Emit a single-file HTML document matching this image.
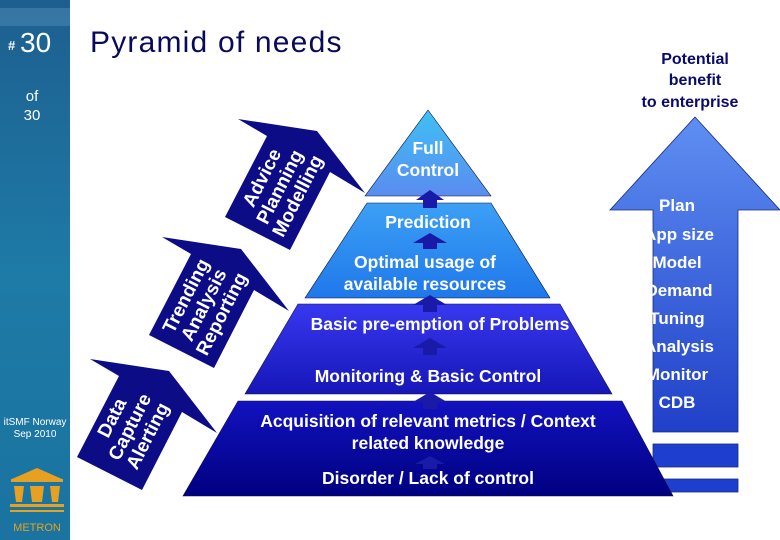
<!DOCTYPE html>
<html><head><meta charset="utf-8"><style>
html,body{margin:0;padding:0;background:#fff}
svg{display:block}
text{font-family:"Liberation Sans",Arial,sans-serif}
.b{font-weight:700}
</style></head><body>
<svg width="780" height="540" viewBox="0 0 780 540" xmlns="http://www.w3.org/2000/svg">
<defs>
<linearGradient id="side" x1="0" y1="0" x2="0" y2="1"><stop offset="0" stop-color="#1d5f8f"/><stop offset="0.5" stop-color="#1e7aa6"/><stop offset="1" stop-color="#1a73a0"/></linearGradient>
<linearGradient id="b1" x1="0" y1="0" x2="0" y2="1"><stop offset="0" stop-color="#3fc0f5"/><stop offset="1" stop-color="#5a8cf0"/></linearGradient>
<linearGradient id="b2" x1="0" y1="0" x2="0" y2="1"><stop offset="0" stop-color="#3ca0f5"/><stop offset="1" stop-color="#1f78ea"/></linearGradient>
<linearGradient id="b3" x1="0" y1="0" x2="0" y2="1"><stop offset="0" stop-color="#3838f0"/><stop offset="1" stop-color="#1616b8"/></linearGradient>
<linearGradient id="b4" x1="0" y1="0" x2="0" y2="1"><stop offset="0" stop-color="#1212c0"/><stop offset="1" stop-color="#000080"/></linearGradient>
<linearGradient id="ra" x1="0" y1="0" x2="0" y2="1"><stop offset="0" stop-color="#5f8ff2"/><stop offset="1" stop-color="#2040c8"/></linearGradient>
<g id="larrow"><polygon points="238,119 317,131 365,193 330,172 290,250 225,217 267,136" fill="#0c0c86"/></g>
</defs>
<rect x="0" y="0" width="70" height="540" fill="url(#side)"/>
<rect x="0" y="8" width="70" height="18" fill="#4a86b2" opacity="0.6"/>
<text x="8" y="50" fill="#fff" font-size="13" class="b">#</text>
<text x="20" y="52" fill="#fff" font-size="28">30</text>
<text x="32" y="101" fill="#fff" font-size="15" text-anchor="middle">of</text>
<text x="32" y="120" fill="#fff" font-size="15" text-anchor="middle">30</text>
<text x="35" y="425" fill="#fff" font-size="10" text-anchor="middle">itSMF Norway</text>
<text x="35" y="437" fill="#fff" font-size="10" text-anchor="middle">Sep 2010</text>
<g fill="#e8a020">
<polygon points="12,479 37,468 62,479"/>
<rect x="11" y="479" width="52" height="3"/>
<polygon points="14,486 24,486 22,502 16,502"/><polygon points="30,486 44,486 42,502 32,502"/><polygon points="50,486 60,486 58,502 52,502"/>
<rect x="10" y="504" width="54" height="3"/><rect x="10" y="510" width="54" height="2"/>
</g>
<text x="37" y="531" fill="#e8a020" font-size="11" text-anchor="middle">METRON</text>
<text x="90" y="52" fill="#0a0a5a" font-size="30" letter-spacing="1.2">Pyramid of needs</text>
<g fill="#0a0a6a" font-size="16" class="b" text-anchor="middle">
<text x="695" y="64">Potential</text>
<text x="695" y="85">benefit</text>
<text x="690" y="107">to enterprise</text>
</g>
<polygon points="695,117 780,210 738,210 738,432 653,432 653,210 610,210" fill="url(#ra)" stroke="#1a2a80" stroke-width="0.8"/>
<rect x="653" y="444" width="85" height="23" fill="#1e3ed0" stroke="#1a2a80" stroke-width="0.8"/>
<rect x="653" y="479" width="85" height="13" fill="#1e3ed0" stroke="#1a2a80" stroke-width="0.8"/>
<g fill="#fff" font-size="17" class="b" text-anchor="middle">
<text x="677" y="211">Plan</text>
<text x="679" y="240">App size</text>
<text x="677" y="268">Model</text>
<text x="679" y="296">Demand</text>
<text x="677" y="324">Tuning</text>
<text x="679" y="352">Analysis</text>
<text x="677" y="380">Monitor</text>
<text x="677" y="408">CDB</text>
</g>
<rect x="620" y="211" width="32.5" height="210" fill="#fff"/>
<polygon points="428,110 491,196 365,196" fill="url(#b1)" stroke="#113" stroke-width="0.6"/>
<polygon points="367,203 491,203 550,298 305,298" fill="url(#b2)" stroke="#113" stroke-width="0.6"/>
<polygon points="298,304 560,304 612,394 245,394" fill="url(#b3)" stroke="#113" stroke-width="0.6"/>
<polygon points="238,401 622,401 673,496 183,496" fill="url(#b4)" stroke="#113" stroke-width="0.6"/>
<g fill="#1a1aa8">
<polygon points="430,190 444,200 437,200 437,208 423,208 423,200 416,200"/>
<polygon points="430,233 447,243 437,243 437,249 423,249 423,243 413,243"/>
<polygon points="430,295 447,305 437,305 437,312 423,312 423,305 413,305"/>
<polygon points="430,338 447,348 437,348 437,355 423,355 423,348 413,348"/>
<polygon points="430,392 447,402 437,402 437,409 423,409 423,402 413,402"/>
<polygon points="430,456 445,464 437,464 437,469 423,469 423,464 415,464"/>
</g>
<g fill="#fff" font-size="17.5" class="b" text-anchor="middle">
<text x="428" y="154">Full</text>
<text x="428" y="176">Control</text>
<text x="428" y="228">Prediction</text>
<text x="425" y="268">Optimal usage of</text>
<text x="425" y="290">available resources</text>
<text x="440" y="330">Basic pre-emption of Problems</text>
<text x="428" y="382">Monitoring &amp; Basic Control</text>
<text x="428" y="427">Acquisition of relevant metrics / Context</text>
<text x="428" y="449">related knowledge</text>
<text x="428" y="484">Disorder / Lack of control</text>
</g>
<use href="#larrow"/>
<use href="#larrow" transform="translate(-76,118)"/>
<use href="#larrow" transform="translate(-148,240)"/>
<g fill="#fff" font-size="19" class="b" text-anchor="middle">
<g transform="translate(280,187) rotate(-63)"><text x="0" y="-14">Advice</text><text x="0" y="6">Planning</text><text x="0" y="26">Modelling</text></g>
<g transform="translate(204,305) rotate(-63)"><text x="0" y="-14">Trending</text><text x="0" y="6">Analysis</text><text x="0" y="26">Reporting</text></g>
<g transform="translate(130,427) rotate(-63)"><text x="0" y="-14">Data</text><text x="0" y="6">Capture</text><text x="0" y="26">Alerting</text></g>
</g>
</svg>
</body></html>
